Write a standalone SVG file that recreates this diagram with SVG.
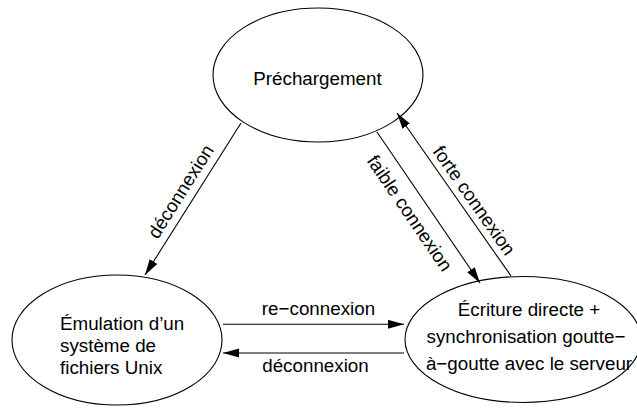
<svg xmlns="http://www.w3.org/2000/svg" width="637" height="412" viewBox="0 0 637 412">
<style>
.node ellipse{fill:#fff;stroke:#000;stroke-width:1.1}
text{font-family:"Liberation Sans",Arial,Helvetica,sans-serif;font-size:18.8px;fill:#000}
.c{text-anchor:middle}
.edges line{stroke:#000;stroke-width:1.1;fill:none}
</style>
<defs>
<marker id="ah" markerUnits="userSpaceOnUse" markerWidth="17" markerHeight="10" refX="16" refY="4.5" orient="auto">
<path d="M0,0 L16,4.5 L0,9 z" fill="#000"/>
</marker>
</defs>
<rect width="637" height="412" fill="#fff"/>
<g id="n-prechargement" class="node">
<ellipse cx="318" cy="75" rx="105" ry="67"/>
<text class="c" x="317.5" y="85">Préchargement</text>
</g>
<g id="n-emulation" class="node">
<ellipse cx="117" cy="340" rx="105" ry="65"/>
<text x="60" y="330">Émulation d’un</text>
<text x="60" y="352">système de</text>
<text x="60" y="374">fichiers Unix</text>
</g>
<g id="n-ecriture" class="node">
<ellipse cx="523" cy="339.5" rx="118" ry="63"/>
<text class="c" x="529" y="316">Écriture directe +</text>
<text class="c" x="526" y="343">synchronisation goutte−</text>
<text class="c" x="529" y="370">à−goutte avec le serveur</text>
</g>
<g id="edges" class="edges">
<line x1="241" y1="123" x2="145" y2="275" marker-end="url(#ah)"/>
<line x1="377" y1="132" x2="480" y2="283" marker-end="url(#ah)"/>
<line x1="511" y1="276" x2="397" y2="113" marker-end="url(#ah)"/>
<line x1="223" y1="324.3" x2="404" y2="324.3" marker-end="url(#ah)"/>
<line x1="404" y1="353" x2="223" y2="353" marker-end="url(#ah)"/>
<text class="c" transform="translate(186.1,194.9) rotate(-57.7)">déconnexion</text>
<text class="c" transform="translate(404.4,216.8) rotate(55.7)">faible connexion</text>
<text class="c" transform="translate(468.9,204.2) rotate(55)">forte connexion</text>
<text class="c" x="318.5" y="315">re−connexion</text>
<text class="c" x="315.5" y="371.7">déconnexion</text>
</g>
</svg>
